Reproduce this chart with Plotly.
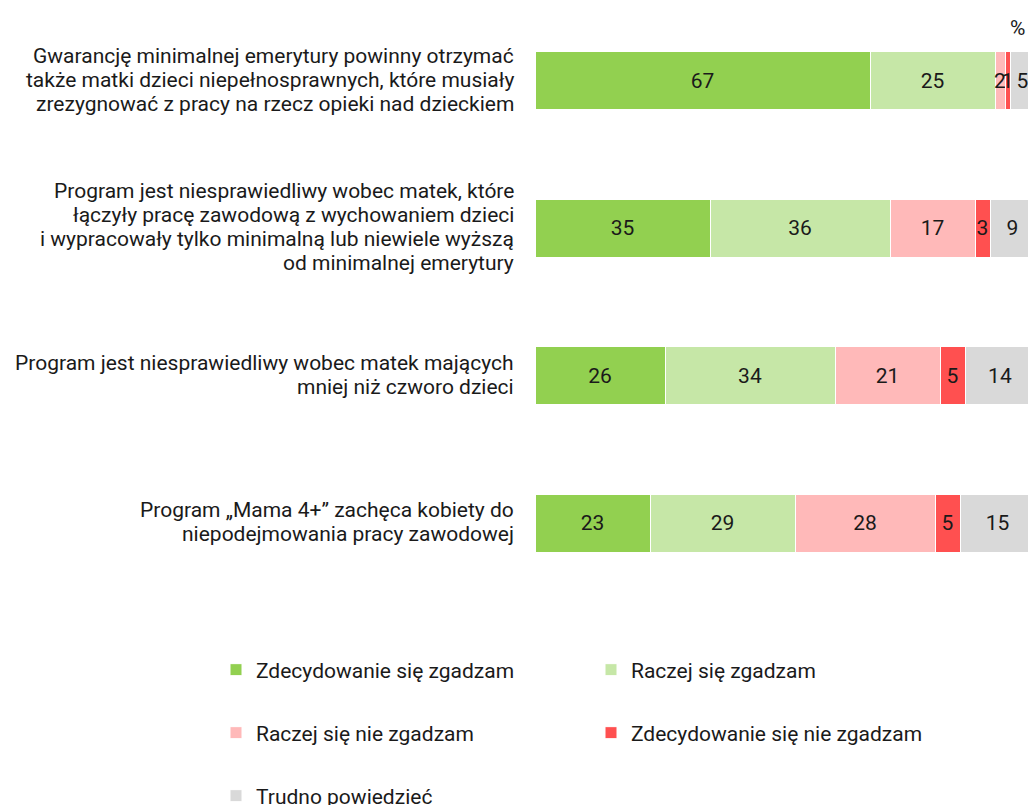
import plotly.graph_objects as go

categories = [
    "Gwarancję minimalnej emerytury powinny otrzymać<br>także matki dzieci niepełnosprawnych, które musiały<br>zrezygnować z pracy na rzecz opieki nad dzieckiem",
    "Program jest niesprawiedliwy wobec matek, które<br>łączyły pracę zawodową z wychowaniem dzieci<br>i wypracowały tylko minimalną lub niewiele wyższą<br>od minimalnej emerytury",
    "Program jest niesprawiedliwy wobec matek mających<br>mniej niż czworo dzieci",
    "Program „Mama 4+” zachęca kobiety do<br>niepodejmowania pracy zawodowej",
]

series_names = [
    "Zdecydowanie się zgadzam",
    "Raczej się zgadzam",
    "Raczej się nie zgadzam",
    "Zdecydowanie się nie zgadzam",
    "Trudno powiedzieć",
]

strongly_agree = [67, 35, 26, 23]
rather_agree = [25, 36, 34, 29]
rather_disagree = [2, 17, 21, 28]
strongly_disagree = [1, 3, 5, 5]
hard_to_say = [5, 9, 14, 15]

series_values = [strongly_agree, rather_agree, rather_disagree, strongly_disagree, hard_to_say]
colors = ["#92D050", "#C6E7A7", "#FFB9B9", "#FF5050", "#D9D9D9"]

unit_label = "%"

W, H = 1035, 805  # figure slightly wider than the window: the 100% end is cut, as in the reference

legend_ids = ["legend", "legend2", "legend3", "legend4", "legend5"]
legend_pos = [(216 / W, 1 - 670 / H), (591 / W, 1 - 670 / H),
              (216 / W, 1 - 733 / H), (591 / W, 1 - 733 / H),
              (216 / W, 1 - 796 / H)]

FONT = "Roboto"
FS = 21
TXT = "#1a1a1a"
LINE_H = 24

fig = go.Figure()
for name, vals, col, lid in zip(series_names, series_values, colors, legend_ids):
    fig.add_trace(go.Bar(
        y=categories,
        x=vals,
        name=name,
        orientation="h",
        marker=dict(color=col, line=dict(color="white", width=1)),
        text=[str(v) for v in vals],
        textposition="inside",
        insidetextanchor="middle",
        textfont=dict(family=FONT, size=FS, color=TXT),
        constraintext="none",
        cliponaxis=False,
        width=0.395,
        legend=lid,
        hoverinfo="skip",
    ))

layout_legends = {}
for lid, (lx, ly) in zip(legend_ids, legend_pos):
    layout_legends[lid] = dict(
        xref="container", yref="container",
        x=lx, y=ly, xanchor="left", yanchor="middle",
        orientation="h",
        font=dict(family=FONT, size=FS, color=TXT),
        bgcolor="rgba(0,0,0,0)",
        itemclick=False, itemdoubleclick=False,
    )

# category labels, one annotation per line (tighter line spacing than tick labels)
annotations = []
for cat in categories:
    lines = cat.split("<br>")
    n = len(lines)
    for i, ln in enumerate(lines):
        annotations.append(dict(
            text=ln, xref="paper", yref="y", x=0, y=cat,
            xanchor="right", yanchor="middle", xshift=-19,
            yshift=-(i - (n - 1) / 2) * LINE_H + 1,
            showarrow=False, align="right",
            font=dict(family=FONT, size=FS, color=TXT),
        ))
annotations.append(dict(
    text=unit_label, xref="paper", yref="paper", x=(1027 - 535) / (W - 535), y=(597 - 28) / 590,
    xanchor="right", yanchor="middle", showarrow=False,
    font=dict(family=FONT, size=FS, color=TXT),
))

fig.update_layout(
    width=W, height=H,
    barmode="stack",
    plot_bgcolor="white", paper_bgcolor="white",
    margin=dict(l=535, r=0, t=7, b=208, autoexpand=False),
    font=dict(family=FONT, size=FS, color=TXT),
    uniformtext=dict(minsize=FS, mode="show"),
    xaxis=dict(range=[0, 100], visible=False, fixedrange=True),
    yaxis=dict(
        categoryorder="array", categoryarray=categories,
        autorange="reversed",
        showgrid=False, zeroline=False, showline=False,
        ticks="", showticklabels=False,
        fixedrange=True,
    ),
    annotations=annotations,
    showlegend=True,
    **layout_legends,
)

fig.write_html(
    "out.html",
    config={"displayModeBar": False, "staticPlot": False},
    post_script="document.body.style.margin='0';document.body.style.overflow='hidden';",
)
